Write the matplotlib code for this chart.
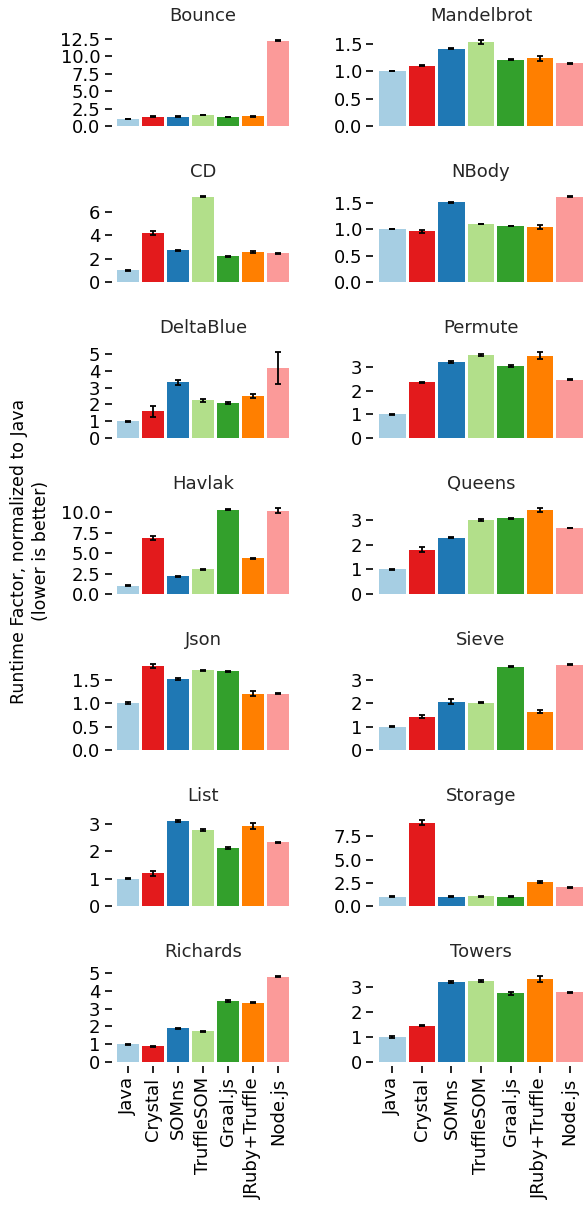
import matplotlib
matplotlib.use("Agg")
import matplotlib.pyplot as plt
from matplotlib.ticker import MultipleLocator

plt.rcParams['font.family'] = ['DejaVu Sans']

langs = ["Java", "Crystal", "SOMns", "TruffleSOM", "Graal.js", "JRuby+Truffle", "Node.js"]
colors = ["#a6cee3", "#e31a1c", "#1f78b4", "#b2df8a", "#33a02c", "#ff7f00", "#fb9a99"]

# column-major order: left column first, then right column
benchmarks = ["Bounce", "CD", "DeltaBlue", "Havlak", "Json", "List", "Richards",
              "Mandelbrot", "NBody", "Permute", "Queens", "Sieve", "Storage", "Towers"]

bounce = [1.0, 1.3, 1.35, 1.6, 1.3, 1.4, 12.25]
bounce_err = [0.05, 0.08, 0.05, 0.05, 0.04, 0.06, 0.05]
cd = [1.0, 4.2, 2.74, 7.32, 2.2, 2.57, 2.48]
cd_err = [0.03, 0.15, 0.04, 0.05, 0.03, 0.06, 0.03]
deltablue = [1.0, 1.58, 3.32, 2.24, 2.06, 2.48, 4.16]
deltablue_err = [0.04, 0.32, 0.15, 0.1, 0.06, 0.12, 0.94]
havlak = [1.0, 6.83, 2.14, 3.0, 10.3, 4.36, 10.16]
havlak_err = [0.05, 0.3, 0.1, 0.1, 0.08, 0.06, 0.3]
json = [1.0, 1.80, 1.52, 1.71, 1.69, 1.21, 1.21]
json_err = [0.02, 0.04, 0.015, 0.015, 0.015, 0.05, 0.01]
lst = [1.0, 1.19, 3.09, 2.76, 2.1, 2.91, 2.32]
lst_err = [0.02, 0.1, 0.03, 0.04, 0.03, 0.1, 0.015]
richards = [1.0, 0.89, 1.9, 1.73, 3.43, 3.32, 4.79]
richards_err = [0.02, 0.02, 0.02, 0.02, 0.03, 0.03, 0.03]
mandelbrot = [1.0, 1.1, 1.41, 1.53, 1.21, 1.23, 1.14]
mandelbrot_err = [0.005, 0.005, 0.005, 0.03, 0.005, 0.04, 0.008]
nbody = [1.0, 0.96, 1.51, 1.095, 1.06, 1.04, 1.61]
nbody_err = [0.005, 0.03, 0.01, 0.005, 0.005, 0.04, 0.01]
permute = [1.0, 2.37, 3.23, 3.53, 3.06, 3.49, 2.46]
permute_err = [0.02, 0.02, 0.05, 0.04, 0.05, 0.14, 0.02]
queens = [1.0, 1.8, 2.29, 3.0, 3.08, 3.41, 2.67]
queens_err = [0.02, 0.1, 0.03, 0.03, 0.02, 0.07, 0.01]
sieve = [1.0, 1.42, 2.06, 2.01, 3.54, 1.63, 3.63]
sieve_err = [0.02, 0.07, 0.1, 0.02, 0.02, 0.07, 0.02]
storage = [1.0, 8.99, 1.02, 1.05, 1.02, 2.57, 2.03]
storage_err = [0.04, 0.25, 0.04, 0.03, 0.03, 0.12, 0.04]
towers = [1.0, 1.46, 3.21, 3.25, 2.76, 3.33, 2.80]
towers_err = [0.03, 0.02, 0.05, 0.05, 0.05, 0.12, 0.02]

values = [bounce, cd, deltablue, havlak, json, lst, richards,
          mandelbrot, nbody, permute, queens, sieve, storage, towers]
errors = [bounce_err, cd_err, deltablue_err, havlak_err, json_err, lst_err, richards_err,
          mandelbrot_err, nbody_err, permute_err, queens_err, sieve_err, storage_err, towers_err]
tick_steps = [2.5, 2, 1, 2.5, 0.5, 1, 1,
              0.5, 0.5, 1, 1, 1, 2.5, 1]

W, H = 584, 1206
fig = plt.figure(figsize=(W / 100, H / 100), dpi=100)

col_x = [(115.8, 174.5), (377.5, 207.0)]
ax_h = 90

for k, name in enumerate(benchmarks):
	col = k // 7
	row = k % 7
	x0, w = col_x[col]
	bottom_px = 126 + 156 * row
	ax = fig.add_axes([x0 / W, 1 - bottom_px / H, w / W, ax_h / H])

	xs = list(range(len(langs)))
	ax.bar(xs, values[k], width=0.9, color=colors)
	ax.errorbar(xs, values[k], yerr=errors[k], fmt='none', ecolor='black',
	            elinewidth=1.3, capsize=2.5, capthick=1.3)
	ax.set_xlim(-0.5, 6.5)
	ax.yaxis.set_major_locator(MultipleLocator(tick_steps[k]))

	for s in ax.spines.values():
		s.set_visible(False)
	ax.spines['left'].set_position(('outward', 3))
	ax.spines['bottom'].set_position(('outward', 3))
	ax.tick_params(axis='y', length=5, width=1.2, labelsize=13, pad=3)

	if row == 6:
		ax.set_xticks(xs)
		ax.set_xticklabels(langs, rotation=90, fontsize=13)
		ax.tick_params(axis='x', length=5, width=1.2, pad=3)
	else:
		ax.set_xticks([])

	ax.set_title(name, fontsize=13, color='#262626', pad=11)

fig.text(30 / W, 1 - 551 / H, "Runtime Factor, normalized to Java\n(lower is better)",
         rotation=90, ha='center', va='center', multialignment='center', fontsize=12.5,
         linespacing=1.25)

fig.savefig("out.png", dpi=100)
